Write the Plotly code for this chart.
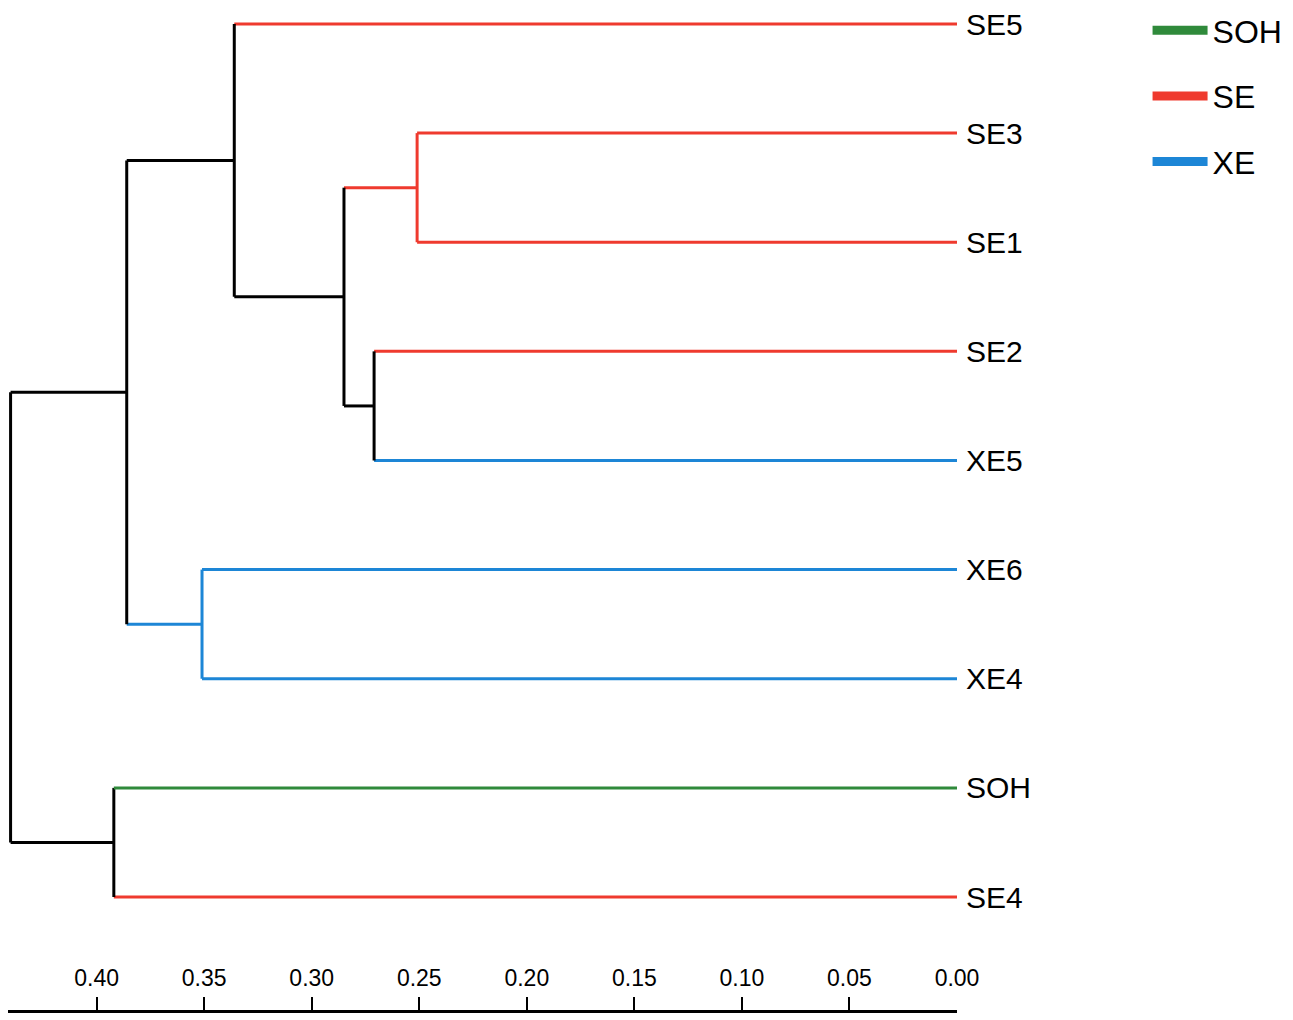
import plotly.graph_objects as go

# leaves from top to bottom, with their group
leaves = ["SE5", "SE3", "SE1", "SE2", "XE5", "XE6", "XE4", "SOH", "SE4"]
leaf_groups = ["SE", "SE", "SE", "SE", "XE", "XE", "XE", "SOH", "SE"]

# merges (ids 0-8 are leaves, merge k gets id 9+k)
merge_left = [1, 3, 9, 0, 5, 12, 7, 14]
merge_right = [2, 4, 10, 11, 6, 13, 8, 15]
merge_height = [0.251, 0.271, 0.285, 0.336, 0.351, 0.386, 0.392, 0.440]

legend_groups = ["SOH", "SE", "XE"]
group_colors = {"SOH": "#2f8a3b", "SE": "#ef3a2e", "XE": "#1d86d6", None: "#000000"}

# node positions
pos = list(range(len(leaves)))
hgt = [0.0] * len(leaves)
grp = list(leaf_groups)
segs = {}


def add(color, xs, ys):
    sx, sy = segs.setdefault(color, ([], []))
    sx.extend(xs + [None])
    sy.extend(ys + [None])


for a, b, h in zip(merge_left, merge_right, merge_height):
    ya, yb = pos[a], pos[b]
    g = grp[a] if grp[a] == grp[b] else None
    add(group_colors[grp[a]], [hgt[a], h], [ya, ya])
    add(group_colors[grp[b]], [hgt[b], h], [yb, yb])
    add(group_colors[g], [h, h], [ya, yb])
    pos.append((ya + yb) / 2)
    hgt.append(h)
    grp.append(g)

fig = go.Figure()
for color, (sx, sy) in segs.items():
    fig.add_trace(go.Scatter(
        x=sx, y=sy, mode="lines",
        line=dict(color=color, width=3),
        showlegend=False, hoverinfo="skip"))

for g in legend_groups:
    fig.add_trace(go.Scatter(
        x=[None], y=[None], mode="lines", name=g, legendgroup=g,
        line=dict(color=group_colors[g], width=9)))

fig.update_layout(
    width=1285, height=1012,
    paper_bgcolor="white", plot_bgcolor="white",
    font=dict(family="Liberation Sans, Arial, sans-serif", color="black"),
    margin=dict(l=0, r=336, t=0, b=10, autoexpand=False),
    showlegend=True,
    legend=dict(
        x=1.2008, y=1.005, xanchor="left", yanchor="top",
        font=dict(size=32, color="black"), traceorder="grouped",
        tracegroupgap=21, itemwidth=55, bgcolor="rgba(0,0,0,0)"),
    xaxis=dict(
        range=[0.4412, 0.0], dtick=0.05, tick0=0, tickformat=".2f",
        showgrid=False, zeroline=False, automargin=False,
        showline=True, linecolor="black", linewidth=2.5,
        ticks="inside", ticklen=13, tickwidth=2, tickcolor="black",
        ticklabelposition="inside", ticklabeloverflow="allow",
        ticklabelstandoff=8, tickfont=dict(size=23, color="black")),
    yaxis=dict(
        range=[len(leaves) - 1 + 1.0355, -0.1466],
        tickvals=list(range(len(leaves))), ticktext=leaves,
        side="right", showgrid=False, zeroline=False, showline=False,
        automargin=False, ticks="", ticklabelstandoff=8,
        ticklabeloverflow="allow",
        tickfont=dict(size=30, color="black")),
)

fig.write_html("out.html")
